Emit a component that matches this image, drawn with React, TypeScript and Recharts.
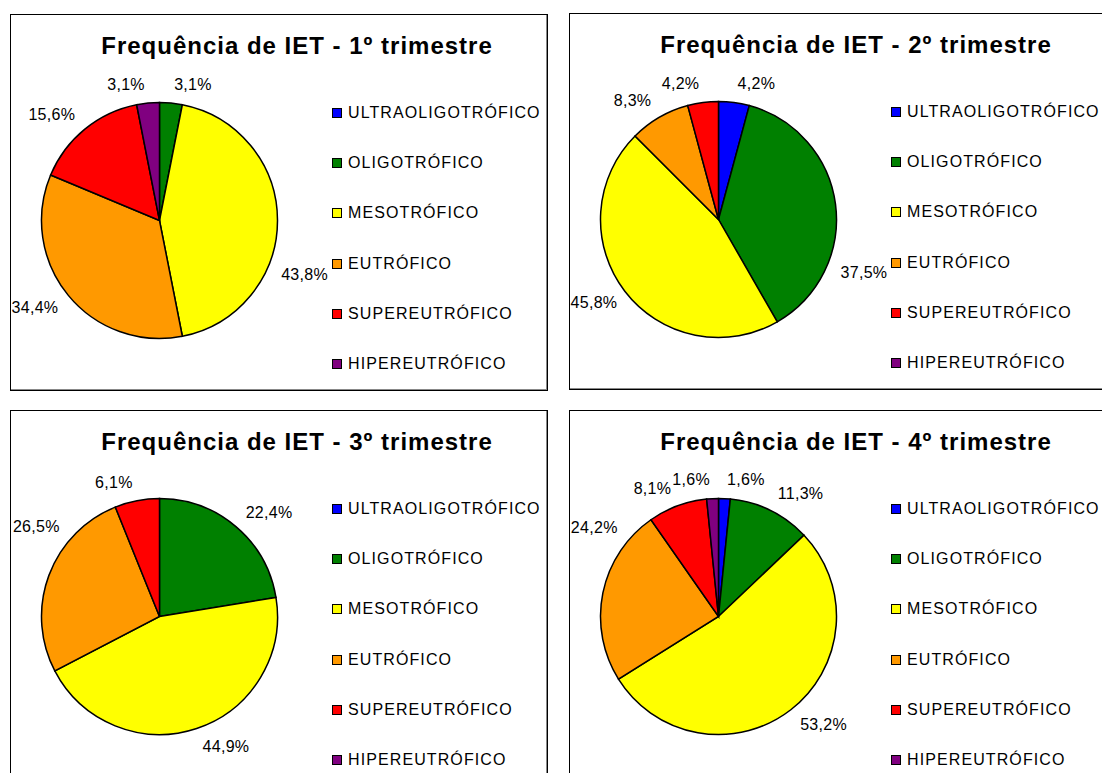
import { PieChart, Pie, Cell, Legend } from "recharts"

const categories = [
  "ULTRAOLIGOTRÓFICO",
  "OLIGOTRÓFICO",
  "MESOTRÓFICO",
  "EUTRÓFICO",
  "SUPEREUTRÓFICO",
  "HIPEREUTRÓFICO"
]
const colors = ["#0000FF", "#008000", "#FFFF00", "#FF9900", "#FF0000", "#800080"]

const q1Values = [0, 3.1, 43.8, 34.4, 15.6, 3.1]
const q2Values = [4.2, 37.5, 45.8, 8.3, 4.2, 0]
const q3Values = [0, 22.4, 44.9, 26.5, 6.1, 0]
const q4Values = [1.6, 11.3, 53.2, 24.2, 8.1, 1.6]

const titles = [
  "Frequência de IET - 1º trimestre",
  "Frequência de IET - 2º trimestre",
  "Frequência de IET - 3º trimestre",
  "Frequência de IET - 4º trimestre"
]

const FONT = "'Liberation Sans', Arial, sans-serif"
const W = 538
const H = 377
const LEGEND_X = 322
const RAD = Math.PI / 180

const fmt = (v: number) => v.toFixed(1).replace(".", ",") + "%"

const renderLabel = (props: any) => {
  const { cx, cy, midAngle, outerRadius, value } = props
  if (!value) return null
  const txt = fmt(value)
  const w = txt.length * 16 * 0.58
  const r = outerRadius + 12
  let ang = midAngle
  let dx = Math.cos(-ang * RAD)
  let dy = Math.sin(-ang * RAD)
  // slide labels clockwise until they clear the legend (right) or the left edge (upper left)
  let n = 0
  while (
    n < 80 &&
    ((dx > 0 && cx + r * dx + 2 + w > LEGEND_X - 4) ||
      (dx < 0 && dy < 0 && cx + r * dx - 2 - w < 2))
  ) {
    ang -= 1
    dx = Math.cos(-ang * RAD)
    dy = Math.sin(-ang * RAD)
    n++
  }
  let x = cx + r * dx + (dx >= 0 ? 2 : -2)
  const y = cy + r * dy + dy * 7
  if (dx < 0 && x - w < 2) x = 2 + w
  return (
    <text
      x={x}
      y={y}
      textAnchor={dx >= 0 ? "start" : "end"}
      dominantBaseline="central"
      fontFamily={FONT}
      fontSize={16}
      letterSpacing={0.3}
      fill="#000"
    >
      {txt}
    </text>
  )
}

const LegendBox = () => (
  <div style={{ position: "relative", width: 216, height: 377 }}>
    {categories.map((name, i) => {
      const y = 99 + i * 50.2
      return (
        <div key={name}>
          <div
            style={{
              position: "absolute",
              left: 0,
              top: y - 5,
              width: 8,
              height: 8,
              background: colors[i],
              border: "1px solid #000"
            }}
          />
          <div
            style={{
              position: "absolute",
              left: 16,
              top: y - 9,
              height: 18,
              lineHeight: "18px",
              fontSize: 16,
              letterSpacing: 1.1,
              fontFamily: FONT,
              whiteSpace: "nowrap",
              color: "#000"
            }}
          >
            {name}
          </div>
        </div>
      )
    })}
  </div>
)

function Panel({ title, values, left, top }: { title: string; values: number[]; left: number; top: number }) {
  const data = categories.map((name, i) => ({ name, value: values[i] }))
  return (
    <div style={{ position: "absolute", left, top, width: W, height: H, overflow: "hidden" }}>
      <PieChart width={W} height={H} margin={{ top: 0, right: 0, bottom: 0, left: 0 }}>
        <Pie
          data={data}
          dataKey="value"
          nameKey="name"
          cx={149.5}
          cy={206.5}
          outerRadius={118}
          startAngle={90}
          endAngle={-270}
          stroke="#000"
          strokeWidth={1.5}
          label={renderLabel}
          labelLine={false}
          isAnimationActive={false}
        >
          {data.map((d, i) => (
            <Cell key={d.name} fill={colors[i]} />
          ))}
        </Pie>
        <Legend
          layout="vertical"
          align="right"
          verticalAlign="top"
          content={() => <LegendBox />}
          wrapperStyle={{ position: "absolute", left: LEGEND_X, top: 0, width: 216 }}
        />
      </PieChart>
      <svg width={W} height={60} style={{ position: "absolute", left: 0, top: 0 }}>
        <text
          x={287}
          y={40}
          textAnchor="middle"
          fontFamily={FONT}
          fontWeight="bold"
          fontSize={24}
          letterSpacing={1}
          fill="#000"
        >
          {title}
        </text>
      </svg>
      <div
        style={{
          position: "absolute",
          left: 0,
          top: 0,
          width: W,
          height: H,
          boxSizing: "border-box",
          border: "1px solid #000",
          boxShadow: "inset -1px -1px 0 #888",
          pointerEvents: "none"
        }}
      />
    </div>
  )
}

export default function App() {
  return (
    <div
      style={{
        position: "relative",
        width: 1110,
        height: 781,
        margin: -8,
        overflow: "hidden",
        background: "#fff"
      }}
    >
      <Panel title={titles[0]} values={q1Values} left={10} top={14} />
      <Panel title={titles[1]} values={q2Values} left={569} top={13} />
      <Panel title={titles[2]} values={q3Values} left={10} top={410} />
      <Panel title={titles[3]} values={q4Values} left={569} top={410} />
    </div>
  )
}
